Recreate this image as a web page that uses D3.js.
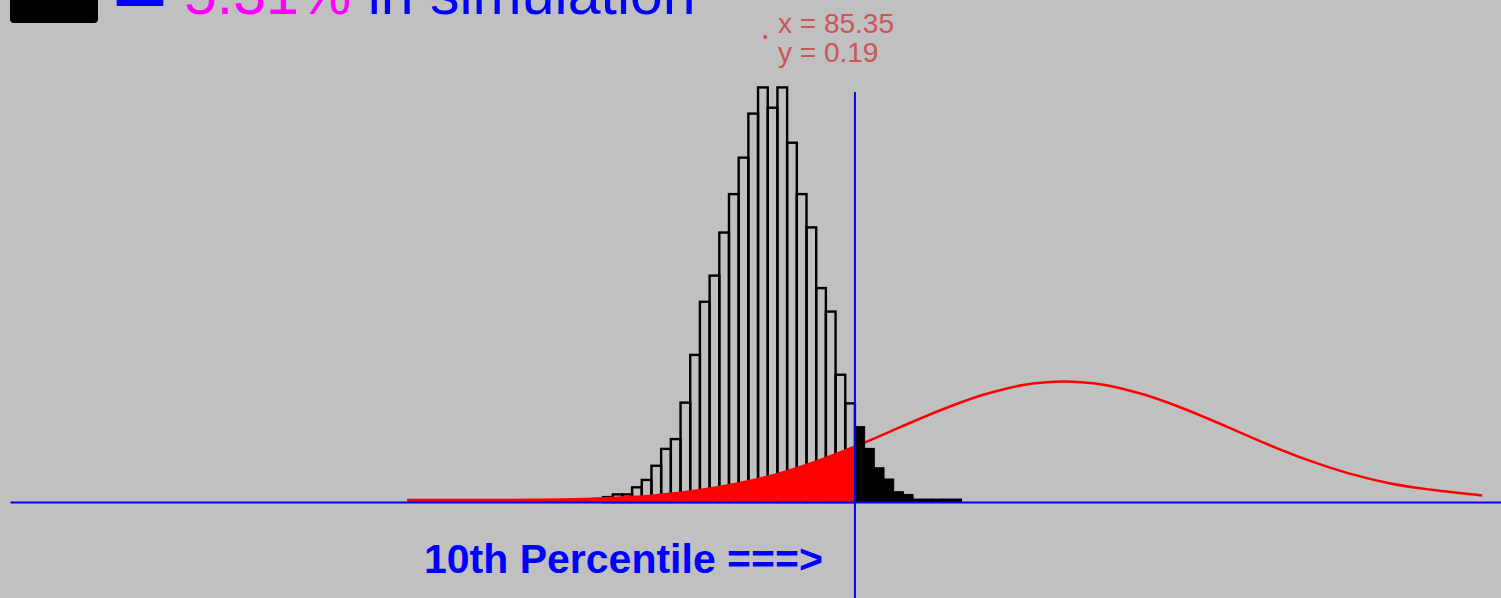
<!DOCTYPE html>
<html>
<head>
<meta charset="utf-8">
<script src="https://cdn.jsdelivr.net/npm/d3@7/dist/d3.min.js"></script>
<style>
  html, body { margin: 0; padding: 0; background: #c0c0c0; }
  svg { display: block; font-family: "Liberation Sans", Arial, sans-serif; }
</style>
</head>
<body>
<svg id="chart" width="1501" height="598"></svg>
<script>
// Simulated distribution (density per bin), bins below the 10th percentile of the population
const histStart = 77.40;
const binWidth = 0.475;
const histBelow = [0.0020, 0.0031, 0.0031, 0.0060, 0.0090, 0.0148, 0.0217, 0.0257,
                   0.0406, 0.0601, 0.0818, 0.0925, 0.1101, 0.1258, 0.1407, 0.1587,
                   0.1694, 0.1611, 0.1694, 0.1468, 0.1258, 0.1122, 0.0874, 0.0778,
                   0.0520, 0.0403];
// bins at or above the 10th percentile
const histAbove = [0.0308, 0.0219, 0.0140, 0.0094, 0.0042, 0.0031, 0.0012, 0.0012,
                   0.0012, 0.0012, 0.0012];

// Population density curve
const curveX = [67.8, 70, 72, 74, 76, 78, 80, 82, 84, 86, 88, 90, 92, 94, 96, 97, 98, 99,
                100, 101, 102, 103, 104, 106, 108, 110, 112, 114, 116, 118, 120.5];
const curveDensity = [0.0008, 0.0008, 0.0008, 0.0009, 0.0011, 0.0017, 0.0028, 0.0047,
                      0.0076, 0.0116, 0.0170, 0.0235, 0.0307, 0.0377, 0.0437, 0.0460,
                      0.0478, 0.0488, 0.0492, 0.0488, 0.0478, 0.0460, 0.0437, 0.0377,
                      0.0307, 0.0235, 0.0170, 0.0116, 0.0076, 0.0050, 0.0027];

const tenthPercentile = 89.75;
const shareText = "5.31%";
const cursorX = [85.35];
const cursorY = [0.19];

const svg = d3.select("#chart");
const W = 1501, H = 598;

const x = d3.scaleLinear().domain([48.33, 121.42]).range([10, 1501]);
const y = d3.scaleLinear().domain([0, 0.2]).range([502, 12.52]);

svg.append("rect").attr("width", W).attr("height", H).attr("fill", "#c0c0c0");

// Outline bars of the simulation below the percentile
svg.append("g")
  .selectAll("rect")
  .data(histBelow)
  .join("rect")
  .attr("x", (d, i) => x(histStart + i * binWidth))
  .attr("width", (d, i) => x(histStart + (i + 1) * binWidth) - x(histStart + i * binWidth))
  .attr("y", d => y(d))
  .attr("height", d => y(0) - y(d))
  .attr("fill", "none")
  .attr("stroke", "#000")
  .attr("stroke-width", 2.4);

// Population curve, shaded up to the 10th percentile
const pts = curveX.map((v, i) => [v, curveDensity[i]]);
svg.append("clipPath").attr("id", "leftTail")
  .append("rect")
  .attr("x", 0).attr("y", 0)
  .attr("width", x(tenthPercentile)).attr("height", H);

svg.append("path")
  .datum(pts)
  .attr("clip-path", "url(#leftTail)")
  .attr("fill", "#ff0000")
  .attr("d", d3.area().x(d => x(d[0])).y0(y(0)).y1(d => y(d[1])).curve(d3.curveMonotoneX));

svg.append("path")
  .datum(pts)
  .attr("fill", "none")
  .attr("stroke", "#ff0000")
  .attr("stroke-width", 2.5)
  .attr("d", d3.line().x(d => x(d[0])).y(d => y(d[1])).curve(d3.curveMonotoneX));

// Solid bars of the simulation above the percentile
const aboveStart = histStart + histBelow.length * binWidth;
svg.append("g")
  .selectAll("rect")
  .data(histAbove)
  .join("rect")
  .attr("x", (d, i) => x(aboveStart + i * binWidth))
  .attr("width", (d, i) => x(aboveStart + (i + 1) * binWidth) - x(aboveStart + i * binWidth))
  .attr("y", d => y(d))
  .attr("height", d => y(0) - y(d))
  .attr("fill", "#000")
  .attr("stroke", "#000")
  .attr("stroke-width", 1);

// Baseline
const axis = svg.append("g")
  .attr("transform", `translate(0,${y(0)})`)
  .call(d3.axisBottom(x).tickValues([]).tickSizeOuter(0));
axis.select(".domain").attr("stroke", "#0000ff").attr("stroke-width", 2);

// Percentile marker
svg.append("line")
  .attr("x1", x(tenthPercentile)).attr("x2", x(tenthPercentile))
  .attr("y1", 92).attr("y2", H)
  .attr("stroke", "#0000ff").attr("stroke-width", 2);

svg.append("text")
  .attr("x", 424).attr("y", 573)
  .attr("font-size", 41).attr("font-weight", "bold")
  .attr("fill", "#0000ff")
  .text("10th Percentile ===>");

// Legend line at the top
svg.append("rect")
  .attr("x", 10).attr("y", -40).attr("width", 88).attr("height", 63).attr("rx", 4)
  .attr("fill", "#000");

svg.append("text")
  .attr("x", 112).attr("y", 22)
  .attr("font-size", 96).attr("fill", "#0000ff")
  .text("=");

const legendText = svg.append("text")
  .attr("x", 184).attr("y", 14)
  .attr("font-size", 59);
legendText.append("tspan").attr("fill", "#ff00ff").text(shareText);
legendText.append("tspan").attr("fill", "#0000ff").text(" in simulation");

// Cursor read-out
svg.append("circle")
  .attr("cx", x(cursorX[0])).attr("cy", y(cursorY[0]))
  .attr("r", 2).attr("fill", "#cc5050");

const readout = svg.append("text")
  .attr("font-size", 28).attr("fill", "#cc5555");
readout.append("tspan").attr("x", 778).attr("y", 33).text(`x = ${cursorX[0].toFixed(2)}`);
readout.append("tspan").attr("x", 778).attr("y", 62).text(`y = ${cursorY[0].toFixed(2)}`);
</script>
</body>
</html>
